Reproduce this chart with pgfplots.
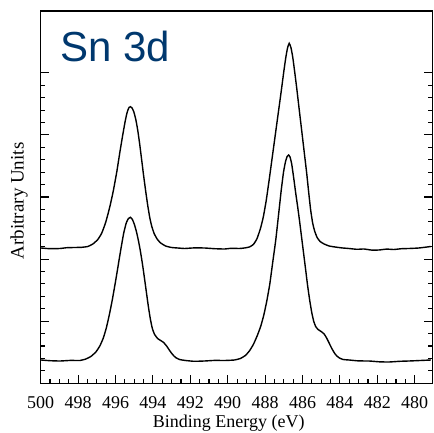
\documentclass[border=0pt]{standalone}
\usepackage{fontspec}
\setmainfont{Liberation Serif}
\newfontfamily\arialfont{Liberation Sans}
\usepackage{pgfplots}
\pgfplotsset{compat=1.18}
\definecolor{titleblue}{RGB}{0,56,110}
\begin{document}
\begin{tikzpicture}
\begin{axis}[
  scale only axis, width=391.8pt, height=372.3pt,
  x dir=reverse, xmin=479.05, xmax=500, ymin=0, ymax=372.3,
  xtick={480,482,...,500}, minor x tick num=3,
  ytick={0,62.1,124.2,186.3,248.4,310.5}, minor y tick num=4, yticklabels={},
  xtick pos=left, ytick pos=both,
  tick align=inside,
  major tick length=8pt, minor tick length=4.5pt,
  axis line style={line width=1.2pt},
  every tick/.style={line width=1.1pt, black},
  /pgf/number format/assume math mode=true,
  /pgf/number format/1000 sep={},
  xticklabel style={font=\fontsize{18}{20}\selectfont, yshift=-10pt},
  xlabel={Binding Energy (eV)},
  xlabel style={font=\fontsize{18}{20}\selectfont, at={(rel axis cs:0.48,0)}, anchor=north, yshift=-28pt},
  ylabel={Arbitrary Units},
  ylabel style={font=\fontsize{19}{21}\selectfont, at={(rel axis cs:0,0.49)}, anchor=center, yshift=21.7pt},
]
\addplot[line width=1.4pt, black, smooth, tension=0.3, mark=none] coordinates {
(499.984,135.3)(499.5,134.6)(498.971,134.8)(498.6,135.6)(498.172,135.8)(497.8,136.0)(497.479,136.8)
(497.212,139.3)(496.946,143.8)(496.733,150.3)(496.519,161.3)(496.306,176.3)(496.119,192.3)
(495.933,211.3)(495.773,230.3)(495.613,248.3)(495.480,262.3)(495.373,271.3)(495.277,275.8)
(495.203,276.6)(495.123,275.5)(495.027,271.8)(494.920,264.3)(494.813,253.3)(494.707,239.3)
(494.600,223.3)(494.494,207.3)(494.387,192.3)(494.280,178.3)(494.174,166.3)(494.067,157.3)
(493.934,149.8)(493.774,144.3)(493.587,140.3)(493.321,137.3)(493.001,135.8)(492.6,135.2)(492.308,134.8)
(491.8,135.4)(491.242,135.3)(490.7,134.6)(490.176,134.3)(489.8,135.0)(489.376,134.8)(489.110,135.3)
(488.843,136.3)(488.630,138.8)(488.443,144.3)(488.257,154.3)(488.097,166.3)(487.937,183.3)
(487.777,204.3)(487.617,226.3)(487.457,248.3)(487.297,270.3)(487.137,292.3)(487.004,311.3)
(486.898,325.3)(486.802,335.3)(486.711,340.0)(486.620,335.8)(486.524,326.3)(486.418,311.3)
(486.311,295.3)(486.205,278.3)(486.098,261.3)(485.991,244.3)(485.885,227.3)(485.778,210.3)
(485.672,191.3)(485.565,173.3)(485.458,160.3)(485.352,152.3)(485.219,145.8)(485.059,141.8)
(484.845,139.3)(484.579,137.3)(484.259,136.3)(483.9,135.4)(483.513,134.8)(483.1,134.0)(482.713,134.3)
(482.3,133.2)(481.914,133.3)(481.5,134.2)(481.114,133.8)(480.7,134.6)(480.314,134.8)(479.781,135.3)
(479.142,136.8)
};
\addplot[line width=1.4pt, black, smooth, tension=0.3, mark=none] coordinates {
(499.984,23.3)(499.5,22.6)(498.971,22.3)(498.4,22.9)(497.905,22.8)(497.585,24.3)(497.319,26.8)
(497.052,31.3)(496.839,37.3)(496.652,45.3)(496.492,55.3)(496.333,68.3)(496.173,83.3)
(496.013,100.3)(495.853,118.3)(495.693,136.3)(495.560,150.3)(495.426,160.3)(495.309,164.8)
(495.203,166.0)(495.096,163.8)(494.989,158.8)(494.883,151.8)(494.776,142.8)(494.670,132.3)
(494.563,119.8)(494.456,105.8)(494.350,91.3)(494.243,76.8)(494.136,64.3)(494.030,54.8)
(493.907,48.8)(493.747,44.8)(493.587,42.8)(493.427,40.8)(493.268,37.3)(493.108,32.8)
(492.948,28.8)(492.788,25.8)(492.575,23.8)(492.255,22.8)(491.8,22.0)(491.242,22.3)(490.7,22.9)
(490.176,22.8)(489.643,23.3)(489.323,24.8)(489.056,27.8)(488.843,32.3)(488.630,38.8)
(488.417,47.8)(488.230,57.3)(488.070,68.3)(487.910,82.3)(487.750,99.3)(487.591,121.3)
(487.431,143.3)(487.271,170.3)(487.137,193.3)(487.015,211.3)(486.908,221.8)(486.818,227.0)
(486.748,228.3)(486.668,226.3)(486.578,219.3)(486.471,205.3)(486.365,190.3)(486.258,176.3)
(486.151,161.3)(486.045,145.3)(485.938,129.3)(485.831,113.3)(485.725,97.3)(485.618,83.3)
(485.512,71.3)(485.405,62.3)(485.298,56.8)(485.165,53.8)(485.005,51.8)(484.845,49.3)
(484.712,45.3)(484.579,40.3)(484.419,34.3)(484.259,29.3)(484.072,25.8)(483.833,23.8)
(483.513,23.3)(483.0,22.4)(482.447,22.3)(481.9,21.5)(481.381,21.3)(480.8,22.0)(480.314,22.3)
(479.7,22.8)(479.142,23.3)
};
\node[anchor=base west, inner sep=0pt, xshift=19.5pt, yshift=-51pt, text=titleblue,
  font=\arialfont\fontsize{42}{48}\selectfont] at (rel axis cs:0,1) {Sn 3d};
\coordinate (sw) at (rel axis cs:0,0);
\coordinate (ne) at (rel axis cs:1,1);
\end{axis}
\pgfresetboundingbox
\path ([xshift=-40.7pt,yshift=-49.7pt]sw) rectangle ([xshift=0.5pt,yshift=11pt]ne);
\end{tikzpicture}
\end{document}
